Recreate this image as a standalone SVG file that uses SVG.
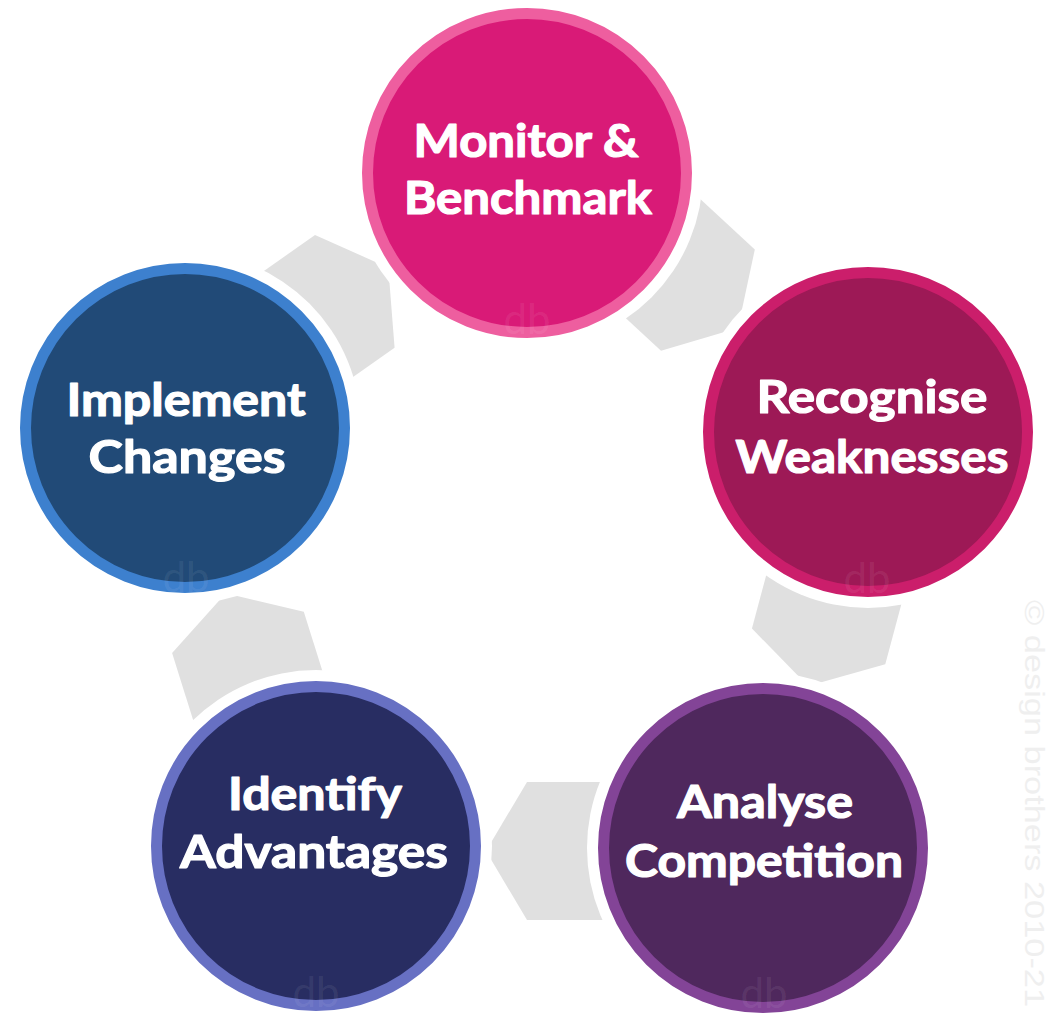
<svg xmlns="http://www.w3.org/2000/svg" width="1053" height="1029" viewBox="0 0 1053 1029">
<defs>
<style>
.arrow{fill:#E0E0E0}
.halo{fill:#FFFFFF}
.lbl{font-family:Lato,"Open Sans","Liberation Sans",sans-serif;font-weight:700;font-size:45px;fill:#FFFFFF;stroke:#FFFFFF;stroke-width:1.2;stroke-linejoin:round;text-anchor:middle}
.wm{font-family:Lato,"Liberation Sans",sans-serif;font-weight:400;font-size:42px;fill:#FFFFFF;fill-opacity:0.08;text-anchor:middle}
.copy{font-family:"Liberation Sans",Arial,sans-serif;font-size:28px;fill:#EFEFEF}
</style>
<polygon id="arr" points="0,0 -41,-69 -150,-69 -150,69 -41,69"/>
</defs>
<rect width="1053" height="1029" fill="#FFFFFF"/>
<g id="connectors">
<use href="#arr" class="arrow" transform="translate(738,328) rotate(42.8)"/>
<use href="#arr" class="arrow" transform="translate(808,686) rotate(105)"/>
<use href="#arr" class="arrow" transform="translate(486,851) rotate(180)"/>
<use href="#arr" class="arrow" transform="translate(225.7,593.3) rotate(-107.4)"/>
<use href="#arr" class="arrow" transform="translate(388.3,267.7) rotate(-35.2)"/>
</g>
<g id="node-monitor">
<circle class="halo" cx="527" cy="173" r="176"/>
<circle cx="527" cy="173" r="159.5" fill="#D91A77" stroke="#EE5E9F" stroke-width="11"/>
<text class="wm" x="527" y="334">db</text>
<text class="lbl" x="526" y="157" textLength="225" lengthAdjust="spacingAndGlyphs">Monitor &amp;</text>
<text class="lbl" x="528" y="214" textLength="248" lengthAdjust="spacingAndGlyphs">Benchmark</text>
</g>
<g id="node-recognise">
<circle class="halo" cx="868" cy="432" r="176"/>
<circle cx="868" cy="432" r="159.5" fill="#9D1956" stroke="#CB1E6B" stroke-width="11"/>
<text class="wm" x="867" y="593">db</text>
<text class="lbl" x="872" y="413" textLength="231" lengthAdjust="spacingAndGlyphs">Recognise</text>
<text class="lbl" x="872" y="473" textLength="273" lengthAdjust="spacingAndGlyphs">Weaknesses</text>
</g>
<g id="node-analyse">
<circle class="halo" cx="763" cy="848" r="176"/>
<circle cx="763" cy="848" r="159.5" fill="#4F285D" stroke="#834497" stroke-width="11"/>
<text class="wm" x="764" y="1008">db</text>
<text class="lbl" x="765" y="818" textLength="176" lengthAdjust="spacingAndGlyphs">Analyse</text>
<text class="lbl" x="764" y="877" textLength="278" lengthAdjust="spacingAndGlyphs">Competition</text>
</g>
<g id="node-identify">
<circle class="halo" cx="316" cy="846" r="176"/>
<circle cx="316" cy="846" r="159.5" fill="#282D62" stroke="#6770C3" stroke-width="11"/>
<text class="wm" x="316" y="1007">db</text>
<text class="lbl" x="315" y="810" textLength="174" lengthAdjust="spacingAndGlyphs">Identify</text>
<text class="lbl" x="314" y="868" textLength="268" lengthAdjust="spacingAndGlyphs">Advantages</text>
</g>
<g id="node-implement">
<circle class="halo" cx="185" cy="428" r="176"/>
<circle cx="185" cy="428" r="159.5" fill="#214A77" stroke="#3D80CE" stroke-width="11"/>
<text class="wm" x="186" y="592">db</text>
<text class="lbl" x="186" y="416" textLength="239" lengthAdjust="spacingAndGlyphs">Implement</text>
<text class="lbl" x="187" y="473" textLength="197" lengthAdjust="spacingAndGlyphs">Changes</text>
</g>
<text class="copy" transform="translate(1025,600) rotate(90)" textLength="407" lengthAdjust="spacingAndGlyphs">© design brothers 2010-21</text>
</svg>
